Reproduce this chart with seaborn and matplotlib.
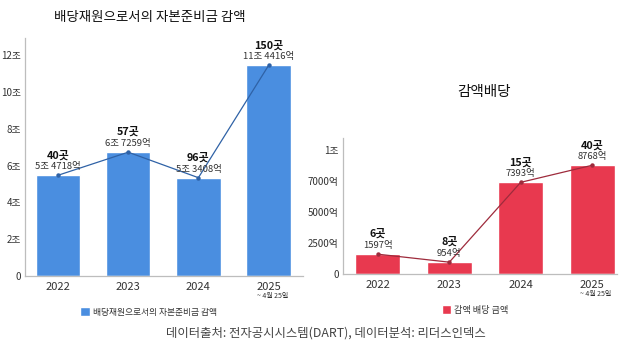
import matplotlib
matplotlib.use("Agg")
import matplotlib.pyplot as plt
from matplotlib.patches import Patch
import seaborn as sns

sns.set_style("white")
plt.rcParams["font.family"] = ["Noto Sans CJK KR", "DejaVu Sans"]

# ---- data ----
years = ["2022", "2023", "2024", "2025"]
period_note = "~ 4월 25일"

reserve_title = "배당재원으로서의 자본준비금 감액"
reserve_amounts = [54718, 67259, 53408, 114416]  # 억원
reserve_counts = [40, 57, 96, 150]
reserve_ticks = [0, 2, 4, 6, 8, 10, 12]
reserve_ticklabels = ["0", "2조", "4조", "6조", "8조", "10조", "12조"]

cut_title = "감액배당"
cut_legend = "감액 배당 금액"
cut_amounts = [1597, 954, 7393, 8768]  # 억원
cut_counts = [6, 8, 15, 40]
cut_ticks = [0, 2500, 5000, 7500, 10000]
cut_ticklabels = ["0", "2500억", "5000억", "7000억", "1조"]

source_text = "데이터출처: 전자공시시스템(DART), 데이터분석: 리더스인덱스"

BLUE, BLUE_LINE = "#4a8ee0", "#2f62a6"
RED, RED_LINE = "#e8394f", "#9e2b3c"
TXT = "#333333"

W, H = 627, 348
fig = plt.figure(figsize=(W / 100, H / 100), dpi=100)
fig.patch.set_facecolor("white")


def px_axes(left, right, bottom, top):
    return fig.add_axes([left / W, 1 - bottom / H, (right - left) / W, (bottom - top) / H])


def fmt_eok(v):
    jo, eok = divmod(v, 10000)
    if jo:
        return f"{jo}조 {eok}억"
    return f"{eok}억"


# left panel: values in 조
axL = px_axes(25, 303, 276, 38)
valsL = [v / 10000 for v in reserve_amounts]
sns.barplot(x=years, y=valsL, ax=axL, color=BLUE, saturation=1, width=0.63)
sns.lineplot(x=list(range(len(years))), y=valsL, ax=axL, color=BLUE_LINE, lw=0.9,
             marker="o", markersize=3.2, markeredgewidth=0)
axL.set_ylim(0, 12.93)
axL.set_xlim(-0.47, 3.49)
axL.set_yticks(reserve_ticks)
axL.set_yticklabels(reserve_ticklabels)

# right panel: values in 억
axR = px_axes(343, 617, 274, 138)
sns.barplot(x=years, y=cut_amounts, ax=axR, color=RED, saturation=1, width=0.63)
sns.lineplot(x=list(range(len(years))), y=cut_amounts, ax=axR, color=RED_LINE, lw=0.9,
             marker="o", markersize=3.2, markeredgewidth=0)
axR.set_ylim(0, 10970)
axR.set_xlim(-0.49, 3.35)
axR.set_yticks(cut_ticks)
axR.set_yticklabels(cut_ticklabels)

for ax, vals, amts, cnts in ((axL, valsL, reserve_amounts, reserve_counts),
                             (axR, cut_amounts, cut_amounts, cut_counts)):
    ax.set_xlabel("")
    ax.set_ylabel("")
    ax.tick_params(axis="both", length=0, colors=TXT)
    ax.tick_params(axis="y", labelsize=7, pad=3)
    ax.tick_params(axis="x", labelsize=8, pad=4)
    for s in ("top", "right"):
        ax.spines[s].set_visible(False)
    for s in ("left", "bottom"):
        ax.spines[s].set_color("#bdbdbd")
        ax.spines[s].set_linewidth(0.9)
    for xi, v, a, c in zip(range(len(years)), vals, amts, cnts):
        ax.annotate(fmt_eok(a), (xi, v), xytext=(0, 6.2), textcoords="offset points",
                    ha="center", va="center", fontsize=6.8, color=TXT)
        ax.annotate(f"{c}곳", (xi, v), xytext=(0, 14.6), textcoords="offset points",
                    ha="center", va="center", fontsize=7.8, fontweight="bold", color="#111111")
    ax.annotate(period_note, (3, 0), xytext=(14, -14.5), textcoords="offset points",
                ha="right", va="center", fontsize=5.0, color=TXT)

# titles
fig.text(150 / W, 1 - 17 / H, reserve_title, ha="center", va="center", fontsize=9.7, color="#111111")
fig.text(484 / W, 1 - 92 / H, cut_title, ha="center", va="center", fontsize=10.5, color="#111111")

# legends
fig.legend(handles=[Patch(facecolor=BLUE, label=reserve_title)], loc="center left",
           bbox_to_anchor=(76 / W, 1 - 312 / H), frameon=False, fontsize=6.3,
           handlelength=1.1, handleheight=1.1, handletextpad=0.35, borderpad=0, labelcolor=TXT)
fig.legend(handles=[Patch(facecolor=RED, label=cut_legend)], loc="center left",
           bbox_to_anchor=(437 / W, 1 - 310 / H), frameon=False, fontsize=6.6,
           handlelength=1.0, handleheight=1.0, handletextpad=0.35, borderpad=0, labelcolor=TXT)

# source line
fig.text(326 / W, 1 - 333 / H, source_text, ha="center", va="center", fontsize=8.9, color="#444444")

fig.savefig("out.png", dpi=100, facecolor="white")
